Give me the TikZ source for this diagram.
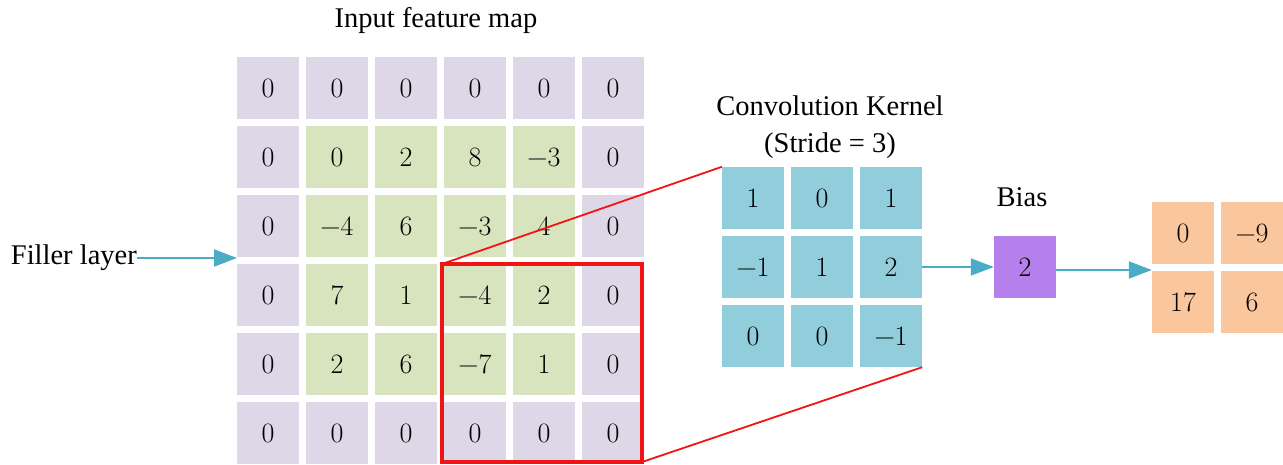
\documentclass[tikz,border=0pt]{standalone}
\usepackage{fontspec}
\setmainfont{Liberation Serif}
\newfontfamily\numfont{Latin Modern Roman}
\usetikzlibrary{arrows.meta}
\definecolor{padcell}{RGB}{221,215,232}
\definecolor{datacell}{RGB}{216,228,190}
\definecolor{kercell}{RGB}{146,205,220}
\definecolor{biascell}{RGB}{181,128,236}
\definecolor{outcell}{RGB}{249,198,158}
\definecolor{flowcol}{RGB}{75,172,198}
\definecolor{winred}{RGB}{240,20,20}
\begin{document}
\begin{tikzpicture}[x=1pt,y=-1pt,
  cell/.style={minimum size=62pt,inner sep=0pt,font=\numfont\fontsize{28}{30}\selectfont},
  label/.style={inner sep=0pt,font=\fontsize{28.5}{32}\selectfont},
  flow/.style={draw=flowcol,line width=2pt,-{Triangle[length=23pt,width=17pt]}},
  window/.style={draw=winred,line width=4pt},
  zoomline/.style={draw=winred,line width=1.8pt}]
\useasboundingbox (0,0) rectangle (1283,465);

% input feature map with zero padding
\foreach \row [count=\r] in {{0,0,0,0,0,0},{0,0,2,8,−3,0},{0,−4,6,−3,4,0},{0,7,1,−4,2,0},{0,2,6,−7,1,0},{0,0,0,0,0,0}}{
  \foreach \v [count=\c] in \row {
    \pgfmathtruncatemacro{\inner}{(\r>1)&&(\r<6)&&(\c>1)&&(\c<6)}
    \ifnum\inner=1 \def\fillc{datacell}\else\def\fillc{padcell}\fi
    \node[cell,fill=\fillc] (in-\r-\c) at ({268+69*(\c-1)},{88+69*(\r-1)}) {\v};
  }
}
\node[label,anchor=base] (intitle) at (436,28) {Input feature map};

% filler layer label and arrow
\node[label,anchor=east] (filler) at (137,258) {Filler layer};
\coordinate (gridW) at (237,258);
\draw[flow] (filler.east) -- (gridW);

% convolution kernel
\foreach \row [count=\r] in {{1,0,1},{−1,1,2},{0,0,−1}}{
  \foreach \v [count=\c] in \row {
    \node[cell,fill=kercell] (ker-\r-\c) at ({753+69*(\c-1)},{198+69*(\r-1)}) {\v};
  }
}
\node[label,anchor=base] (kertitle) at (830,116) {Convolution Kernel};
\node[label,anchor=base] (kerstride) at (830,153) {(Stride = 3)};

% receptive window and its projection onto the kernel
\coordinate (winNW) at (442,264);
\coordinate (winSE) at (642,462);
\draw[window] (winNW) rectangle (winSE);
\draw[zoomline] (winNW) -- (ker-1-1.north west);
\draw[zoomline] (winSE) -- (ker-3-3.south east);

% bias
\node[cell,fill=biascell] (bias) at (1025,267) {2};
\node[label,anchor=base] (biastitle) at (1022,207) {Bias};

% output feature map
\foreach \row [count=\r] in {{0,−9},{17,6}}{
  \foreach \v [count=\c] in \row {
    \node[cell,fill=outcell] (out-\r-\c) at ({1183+69*(\c-1)},{233+69*(\r-1)}) {\v};
  }
}

\draw[flow] (ker-2-3.east) -- (bias.west);
\draw[flow] ([yshift=-3pt]bias.east) -- ([yshift=-3pt]bias.east -| out-1-1.west);
\end{tikzpicture}
\end{document}
